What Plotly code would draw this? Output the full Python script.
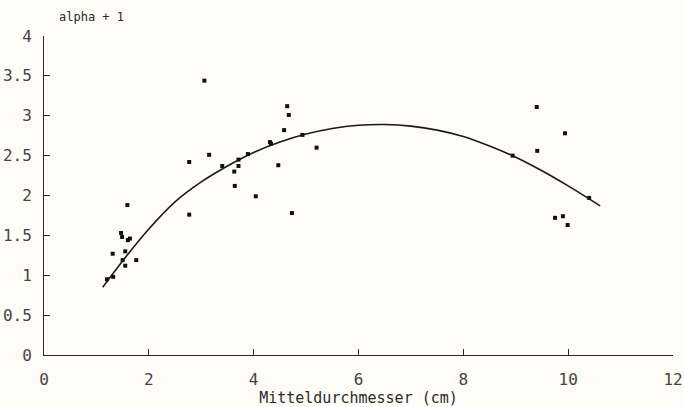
import plotly.graph_objects as go

# scatter data (Mitteldurchmesser cm, alpha + 1)
pt_x = [1.20, 1.32, 1.31, 1.50, 1.55, 1.76, 1.55, 1.47, 1.49, 1.60, 1.64, 1.59,
        2.77, 2.77, 3.06, 3.15, 3.40, 3.63, 3.64, 3.71, 3.71, 3.89, 4.04, 4.31,
        4.33, 4.47, 4.58, 4.64, 4.67, 4.73, 4.93, 5.20, 8.94, 9.40, 9.41, 9.75,
        9.90, 9.99, 9.94, 10.40]
pt_y = [0.95, 0.98, 1.27, 1.19, 1.12, 1.19, 1.30, 1.53, 1.48, 1.44, 1.46, 1.88,
        1.76, 2.42, 3.44, 2.51, 2.37, 2.30, 2.12, 2.45, 2.37, 2.52, 1.99, 2.67,
        2.65, 2.38, 2.82, 3.12, 3.01, 1.78, 2.76, 2.60, 2.50, 3.11, 2.56, 1.72,
        1.74, 1.63, 2.78, 1.97]

# fitted curve
fit_x = [1.12, 1.5, 2.0, 2.5, 3.0, 3.5, 4.0, 4.5, 5.0, 5.5, 6.0, 6.5, 7.0,
         7.5, 8.0, 8.5, 9.0, 9.5, 10.0, 10.61]
fit_y = [0.85, 1.18, 1.58, 1.92, 2.17, 2.37, 2.54, 2.67, 2.77, 2.84, 2.88,
         2.89, 2.87, 2.82, 2.74, 2.62, 2.48, 2.31, 2.12, 1.87]

x_ticks = [0, 2, 4, 6, 8, 10, 12]
y_ticks = [0, 0.5, 1, 1.5, 2, 2.5, 3, 3.5, 4]
y_tick_text = ["0", "0.5", "1", "1.5", "2", "2.5", "3", "3.5", "4"]

FONT = "DejaVu Sans Mono"
INK = "#2a2a2a"
BG = "#fdfcf7"

fig = go.Figure()
fig.add_trace(go.Scatter(x=fit_x, y=fit_y, mode="lines",
                         line=dict(color="#1a1a1a", width=1.6, shape="spline", smoothing=0.8),
                         hoverinfo="skip", showlegend=False))
fig.add_trace(go.Scatter(x=pt_x, y=pt_y, mode="markers",
                         marker=dict(symbol="square", size=4, color="#111111"),
                         showlegend=False))

fig.update_layout(
    width=684, height=407,
    margin=dict(l=44, r=11, t=36, b=52),
    paper_bgcolor=BG, plot_bgcolor=BG,
    font=dict(family=FONT, size=15, color=INK),
    xaxis=dict(range=[0, 12], tickvals=x_ticks, ticks="inside", ticklen=6,
               tickcolor=INK, showline=True, linecolor=INK, linewidth=1,
               showgrid=False, zeroline=False, ticklabeloverflow="allow",
               ticklabelstandoff=10, automargin=False,
               title=dict(text="Mitteldurchmesser (cm)", standoff=0,
                          font=dict(family=FONT, size=15, color=INK)),
               tickfont=dict(family=FONT, size=16, color="#444")),
    yaxis=dict(range=[0, 4], tickvals=y_ticks, ticktext=y_tick_text,
               ticks="inside", ticklen=6, tickcolor=INK, showline=True,
               linecolor=INK, linewidth=1, showgrid=False, zeroline=False,
               ticklabelstandoff=8, automargin=False,
               tickfont=dict(family=FONT, size=16, color="#444")),
    annotations=[dict(text="alpha + 1", xref="paper", yref="paper",
                      x=(57 - 44) / 629, y=(355 - 17) / 319,
                      xanchor="left", yanchor="middle", showarrow=False,
                      font=dict(family=FONT, size=12, color=INK))],
)

fig.write_html("out.html")
